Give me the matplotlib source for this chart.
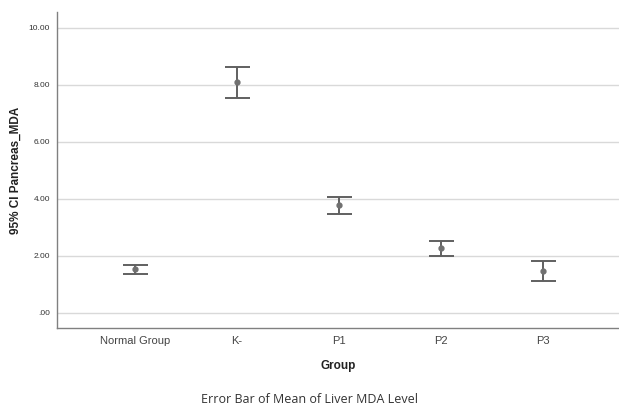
import matplotlib
matplotlib.use('Agg')
import matplotlib.pyplot as plt
import numpy as np

# data
groups = ['Normal Group', 'K-', 'P1', 'P2', 'P3']
means = [1.53, 8.08, 3.77, 2.26, 1.48]
upper = [1.67, 8.61, 4.05, 2.53, 1.81]
lower = [1.37, 7.55, 3.47, 1.99, 1.13]
yticks = [0, 2, 4, 6, 8, 10]
ytick_labels = ['.00', '2.00', '4.00', '6.00', '8.00', '10.00']

plt.rcParams['font.family'] = ['Liberation Sans', 'DejaVu Sans']

fig = plt.figure(figsize=(6.19, 4.11), dpi=100)
ax = fig.add_axes([57 / 619, 1 - 328 / 411, 1 - 57 / 619, (328 - 12) / 411])

x = np.arange(len(groups))
m = np.array(means)
yerr = [m - np.array(lower), np.array(upper) - m]
ax.errorbar(x, m, yerr=yerr, fmt='o', color='#707070', ecolor='#606060',
            markersize=3.5, elinewidth=1.4, capsize=9, capthick=1.4, zorder=3)

ax.set_xlim(-0.76, 4.74)
ax.set_ylim(-0.53, 10.55)
ax.set_yticks(yticks)
ax.set_yticklabels(ytick_labels, fontsize=6, color='#333333')
ax.set_xticks(x)
ax.set_xticklabels(groups, fontsize=8, color='#444444')
ax.tick_params(length=0, pad=5)
ax.tick_params(axis='x', pad=6)
ax.grid(axis='y', color='#d9d9d9', linewidth=1)
ax.set_axisbelow(True)
for s in ['top', 'right']:
    ax.spines[s].set_visible(False)
for s in ['left', 'bottom']:
    ax.spines[s].set_color('#808080')
    ax.spines[s].set_linewidth(1)

ax.set_ylabel('95% CI Pancreas_MDA', fontsize=8.5, fontweight='bold', color='#222222')
ax.yaxis.set_label_coords(-0.062, 0.5)
ax.set_xlabel('Group', fontsize=8.5, fontweight='bold', color='#222222', labelpad=10)

fig.text(0.5, 1 - 399 / 411, 'Error Bar of Mean of Liver MDA Level', ha='center', va='center',
         fontsize=9, color='#333333', family=['Open Sans', 'DejaVu Sans'])

fig.savefig('out.png', dpi=100)
